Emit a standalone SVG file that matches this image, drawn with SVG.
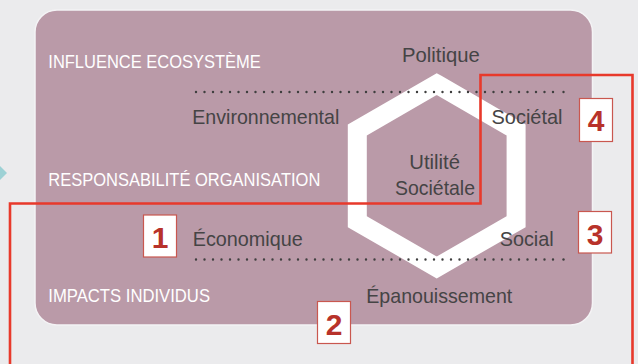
<svg xmlns="http://www.w3.org/2000/svg" width="638" height="364" viewBox="0 0 638 364">
<style>
.lbl{font-family:"Liberation Sans",Arial,sans-serif;font-size:20.2px;fill:#454445}
.cat{font-family:"Liberation Sans",Arial,sans-serif;font-size:18px;fill:#ffffff}
.num{font-family:"Liberation Sans",Arial,sans-serif;font-size:30px;font-weight:bold;fill:#b8322a;text-anchor:middle}
.box{fill:#ffffff;stroke:#c9574f;stroke-width:1.2}
.dots{stroke:#3f3f3f;stroke-width:2.4;stroke-linecap:round;stroke-dasharray:0 8.5;fill:none}
.red{fill:none;stroke:#e8392b;stroke-width:2.6}
</style>
<rect x="0" y="0" width="638" height="364" fill="#ebebed"/>
<polygon points="7,173 -12,154 -12,192" fill="#9dd1d5"/>
<rect id="panel" x="35" y="10" width="557.5" height="315" rx="22" ry="22" fill="#ba9aa8" stroke="#f4f3f5" stroke-width="1.5"/>
<g id="hexagon">
<polygon points="436.7,84.1 516.1,129.95 516.1,221.65 436.7,267.5 357.3,221.65 357.3,129.95" fill="none" stroke="#ffffff" stroke-width="19" stroke-linejoin="miter"/>
<text class="lbl" x="409.3" y="169.3" textLength="50.7" lengthAdjust="spacingAndGlyphs">Utilité</text>
<text class="lbl" x="395" y="195" textLength="80" lengthAdjust="spacingAndGlyphs">Sociétale</text>
</g>
<g id="categories">
<text class="cat" x="48.3" y="67.7" textLength="212.5" lengthAdjust="spacingAndGlyphs">INFLUENCE ECOSYSTÈME</text>
<text class="cat" x="48.3" y="186" textLength="272" lengthAdjust="spacingAndGlyphs">RESPONSABILITÉ ORGANISATION</text>
<text class="cat" x="48.3" y="302" textLength="161.7" lengthAdjust="spacingAndGlyphs">IMPACTS INDIVIDUS</text>
</g>
<g id="labels">
<text id="politique" class="lbl" x="402" y="62" textLength="77.7" lengthAdjust="spacingAndGlyphs">Politique</text>
<text id="environnemental" class="lbl" x="192.3" y="124.3" textLength="147" lengthAdjust="spacingAndGlyphs">Environnemental</text>
<text id="societal" class="lbl" x="491.5" y="124" textLength="71" lengthAdjust="spacingAndGlyphs">Sociétal</text>
<text id="economique" class="lbl" x="192.7" y="246" textLength="110" lengthAdjust="spacingAndGlyphs">Économique</text>
<text id="social" class="lbl" x="499.7" y="246.3" textLength="54" lengthAdjust="spacingAndGlyphs">Social</text>
<text id="epanouissement" class="lbl" x="366.3" y="302.7" textLength="146" lengthAdjust="spacingAndGlyphs">Épanouissement</text>
</g>
<g id="connectors">
<line class="dots" x1="196" y1="92" x2="560" y2="92"/>
<circle cx="563.5" cy="92" r="1.2" fill="#3f3f3f"/>
<line class="dots" x1="196" y1="259.5" x2="560" y2="259.5"/>
<circle cx="563.5" cy="259.5" r="1.2" fill="#3f3f3f"/>
<polyline class="red" points="10,366 10,203.5 480.5,203.5 480.5,75 632.5,75 632.5,366"/>
</g>
<g id="n1"><rect class="box" x="143.5" y="215" width="33" height="42"/><text class="num" x="160" y="247.5">1</text></g>
<g id="n2"><rect class="box" x="317.5" y="301.5" width="33" height="42"/><text class="num" x="334" y="334.5">2</text></g>
<g id="n3"><rect class="box" x="578.5" y="211.5" width="33" height="41.5"/><text class="num" x="595" y="244.5">3</text></g>
<g id="n4"><rect class="box" x="579.5" y="98.5" width="33" height="43"/><text class="num" x="596" y="131">4</text></g>
</svg>
